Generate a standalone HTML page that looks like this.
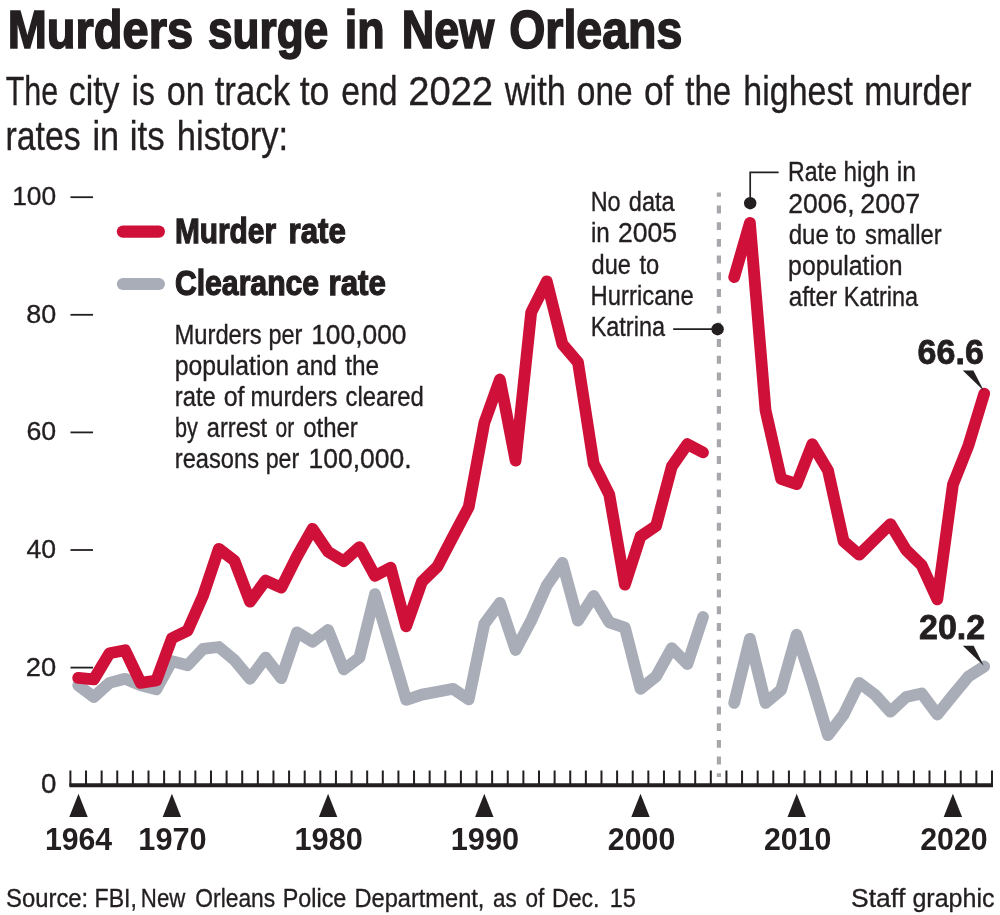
<!DOCTYPE html>
<html><head><meta charset="utf-8"><title>Murders surge in New Orleans</title>
<style>html,body{margin:0;padding:0;background:#fff}svg{display:block;will-change:transform}text{font-family:"Liberation Sans",sans-serif;fill:#231f20;font-kerning:none;font-variant-ligatures:none}.b{font-weight:bold}</style></head><body>
<svg width="1000" height="915" viewBox="0 0 1000 915">
<rect width="1000" height="915" fill="#fff"/>
<text x="7.71" y="48.4" font-size="54.2" class="b" textLength="185.37" lengthAdjust="spacingAndGlyphs" stroke="#231f20" stroke-width="1.70">Murders</text>
<text x="208.05" y="48.4" font-size="54.2" class="b" textLength="120.11" lengthAdjust="spacingAndGlyphs" stroke="#231f20" stroke-width="1.70">surge</text>
<text x="344.72" y="48.4" font-size="54.2" class="b" textLength="39.81" lengthAdjust="spacingAndGlyphs" stroke="#231f20" stroke-width="1.70">in</text>
<text x="401.74" y="48.4" font-size="54.2" class="b" textLength="92.52" lengthAdjust="spacingAndGlyphs" stroke="#231f20" stroke-width="1.70">New</text>
<text x="509.24" y="48.4" font-size="54.2" class="b" textLength="173.01" lengthAdjust="spacingAndGlyphs" stroke="#231f20" stroke-width="1.70">Orleans</text>
<text x="5.69" y="104.6" font-size="40.7" textLength="52.49" lengthAdjust="spacingAndGlyphs" stroke="#231f20" stroke-width="0.35">The</text>
<text x="68.74" y="104.6" font-size="40.7" textLength="50.75" lengthAdjust="spacingAndGlyphs" stroke="#231f20" stroke-width="0.35">city</text>
<text x="131.85" y="104.6" font-size="40.7" textLength="22.92" lengthAdjust="spacingAndGlyphs" stroke="#231f20" stroke-width="0.35">is</text>
<text x="166.74" y="104.6" font-size="40.7" textLength="37.89" lengthAdjust="spacingAndGlyphs" stroke="#231f20" stroke-width="0.35">on</text>
<text x="214.65" y="104.6" font-size="40.7" textLength="75.53" lengthAdjust="spacingAndGlyphs" stroke="#231f20" stroke-width="0.35">track</text>
<text x="299.64" y="104.6" font-size="40.7" textLength="29.68" lengthAdjust="spacingAndGlyphs" stroke="#231f20" stroke-width="0.35">to</text>
<text x="341.24" y="104.6" font-size="40.7" textLength="56.36" lengthAdjust="spacingAndGlyphs" stroke="#231f20" stroke-width="0.35">end</text>
<text x="408.26" y="104.6" font-size="40.7" textLength="84.78" lengthAdjust="spacingAndGlyphs" stroke="#231f20" stroke-width="0.35">2022</text>
<text x="504.73" y="104.6" font-size="40.7" textLength="61.13" lengthAdjust="spacingAndGlyphs" stroke="#231f20" stroke-width="0.35">with</text>
<text x="576.77" y="104.6" font-size="40.7" textLength="55.84" lengthAdjust="spacingAndGlyphs" stroke="#231f20" stroke-width="0.35">one</text>
<text x="644.00" y="104.6" font-size="40.7" textLength="29.38" lengthAdjust="spacingAndGlyphs" stroke="#231f20" stroke-width="0.35">of</text>
<text x="685.17" y="104.6" font-size="40.7" textLength="46.13" lengthAdjust="spacingAndGlyphs" stroke="#231f20" stroke-width="0.35">the</text>
<text x="743.32" y="104.6" font-size="40.7" textLength="109.55" lengthAdjust="spacingAndGlyphs" stroke="#231f20" stroke-width="0.35">highest</text>
<text x="864.17" y="104.6" font-size="40.7" textLength="107.41" lengthAdjust="spacingAndGlyphs" stroke="#231f20" stroke-width="0.35">murder</text>
<text x="5.53" y="150.3" font-size="40.7" textLength="75.22" lengthAdjust="spacingAndGlyphs" stroke="#231f20" stroke-width="0.35">rates</text>
<text x="92.38" y="150.3" font-size="40.7" textLength="26.67" lengthAdjust="spacingAndGlyphs" stroke="#231f20" stroke-width="0.35">in</text>
<text x="129.84" y="150.3" font-size="40.7" textLength="34.84" lengthAdjust="spacingAndGlyphs" stroke="#231f20" stroke-width="0.35">its</text>
<text x="176.78" y="150.3" font-size="40.7" textLength="111.40" lengthAdjust="spacingAndGlyphs" stroke="#231f20" stroke-width="0.35">history:</text>
<text x="12.17" y="205.2" font-size="26.6" textLength="43.99" lengthAdjust="spacingAndGlyphs" stroke="#231f20" stroke-width="0.35">100</text>
<line x1="70.5" y1="197.2" x2="93" y2="197.2" stroke="#231f20" stroke-width="1.8"/>
<text x="26.20" y="322.8" font-size="26.6" textLength="29.97" lengthAdjust="spacingAndGlyphs" stroke="#231f20" stroke-width="0.35">80</text>
<line x1="70.5" y1="314.8" x2="93" y2="314.8" stroke="#231f20" stroke-width="1.8"/>
<text x="26.42" y="440.4" font-size="26.6" textLength="29.75" lengthAdjust="spacingAndGlyphs" stroke="#231f20" stroke-width="0.35">60</text>
<line x1="70.5" y1="432.4" x2="93" y2="432.4" stroke="#231f20" stroke-width="1.8"/>
<text x="26.56" y="558.0" font-size="26.6" textLength="29.60" lengthAdjust="spacingAndGlyphs" stroke="#231f20" stroke-width="0.35">40</text>
<line x1="70.5" y1="550.0" x2="93" y2="550.0" stroke="#231f20" stroke-width="1.8"/>
<text x="25.80" y="675.6" font-size="26.6" textLength="30.39" lengthAdjust="spacingAndGlyphs" stroke="#231f20" stroke-width="0.35">20</text>
<line x1="70.5" y1="667.6" x2="93" y2="667.6" stroke="#231f20" stroke-width="1.8"/>
<text x="41.09" y="793.3" font-size="26.8" textLength="15.42" lengthAdjust="spacingAndGlyphs" stroke="#231f20" stroke-width="0.35">0</text>
<line x1="718.9" y1="192.5" x2="718.9" y2="777" stroke="#a6a8ab" stroke-width="4.2" stroke-dasharray="7.9 8.8" stroke-dashoffset="3.7"/>
<path d="M78.2,685.2 L93.8,697.0 L109.5,682.9 L125.1,678.8 L140.7,685.2 L156.3,689.4 L171.9,661.1 L187.6,665.2 L203.2,648.8 L218.8,647.0 L234.4,660.0 L250.0,678.8 L265.6,657.6 L281.3,678.2 L296.9,632.3 L312.5,641.7 L328.1,630.0 L343.8,669.4 L359.4,657.6 L375.0,594.1 L390.6,647.0 L406.2,699.9 L421.9,694.6 L437.5,691.7 L453.1,688.8 L468.7,699.4 L484.3,624.1 L499.9,602.9 L515.6,650.0 L531.2,620.6 L546.8,585.3 L562.4,562.9 L578.0,620.6 L593.7,595.9 L609.3,622.3 L624.9,627.6 L640.5,688.8 L656.1,676.4 L671.8,648.2 L687.4,664.1 L703.0,617.0" fill="none" stroke="#a9adb8" stroke-width="11.8" stroke-linecap="round" stroke-linejoin="round"/>
<path d="M734.2,702.9 L749.9,638.8 L765.5,702.9 L781.1,689.9 L796.7,634.7 L812.3,682.9 L828.0,735.2 L843.6,714.6 L859.2,682.9 L874.8,694.6 L890.4,711.7 L906.1,697.0 L921.7,693.5 L937.3,714.6 L952.9,695.2 L968.5,676.4 L984.2,666.4" fill="none" stroke="#a9adb8" stroke-width="11.8" stroke-linecap="round" stroke-linejoin="round"/>
<path d="M78.2,677.9 L93.8,679.4 L109.5,653.2 L125.1,650.3 L140.7,682.9 L156.3,680.5 L171.9,638.2 L187.6,630.6 L203.2,595.3 L218.8,548.8 L234.4,560.6 L250.0,601.7 L265.6,580.6 L281.3,587.6 L296.9,556.5 L312.5,528.8 L328.1,551.8 L343.8,561.2 L359.4,547.1 L375.0,575.9 L390.6,567.6 L406.2,626.4 L421.9,581.8 L437.5,566.5 L453.1,536.5 L468.7,507.1 L484.3,423.0 L499.9,379.5 L515.6,460.6 L531.2,312.4 L546.8,281.3 L562.4,344.2 L578.0,362.4 L593.7,463.6 L609.3,494.7 L624.9,584.7 L640.5,536.5 L656.1,525.9 L671.8,466.5 L687.4,444.2 L703.0,452.4" fill="none" stroke="#cf1139" stroke-width="11.8" stroke-linecap="round" stroke-linejoin="round"/>
<path d="M734.2,277.2 L749.9,222.8 L765.5,410.1 L781.1,478.9 L796.7,484.1 L812.3,444.2 L828.0,470.6 L843.6,541.2 L859.2,554.7 L874.8,539.4 L890.4,524.1 L906.1,550.0 L921.7,565.3 L937.3,599.4 L952.9,484.7 L968.5,445.3 L984.2,393.6" fill="none" stroke="#cf1139" stroke-width="11.8" stroke-linecap="round" stroke-linejoin="round"/>
<line x1="69.4" y1="785.3" x2="993.0" y2="785.3" stroke="#231f20" stroke-width="3.9"/>
<path d="M70.40,770.5V786M86.02,770.5V786M101.64,770.5V786M117.26,770.5V786M132.88,770.5V786M148.50,770.5V786M164.12,770.5V786M179.74,770.5V786M195.36,770.5V786M210.98,770.5V786M226.60,770.5V786M242.22,770.5V786M257.84,770.5V786M273.46,770.5V786M289.08,770.5V786M304.70,770.5V786M320.32,770.5V786M335.94,770.5V786M351.56,770.5V786M367.18,770.5V786M382.80,770.5V786M398.42,770.5V786M414.04,770.5V786M429.66,770.5V786M445.28,770.5V786M460.90,770.5V786M476.52,770.5V786M492.14,770.5V786M507.76,770.5V786M523.38,770.5V786M539.00,770.5V786M554.62,770.5V786M570.24,770.5V786M585.86,770.5V786M601.48,770.5V786M617.10,770.5V786M632.72,770.5V786M648.34,770.5V786M663.96,770.5V786M679.58,770.5V786M695.20,770.5V786M710.82,770.5V786M726.44,770.5V786M742.06,770.5V786M757.68,770.5V786M773.30,770.5V786M788.92,770.5V786M804.54,770.5V786M820.16,770.5V786M835.78,770.5V786M851.40,770.5V786M867.02,770.5V786M882.64,770.5V786M898.26,770.5V786M913.88,770.5V786M929.50,770.5V786M945.12,770.5V786M960.74,770.5V786M976.36,770.5V786M991.98,770.5V786" stroke="#231f20" stroke-width="2" fill="none"/>
<path d="M78.5,793.8 L69.3,816.9 L87.7,816.9 Z" fill="#231f20"/>
<text x="44.90" y="849.7" font-size="31.2" class="b" textLength="67.27" lengthAdjust="spacingAndGlyphs">1964</text>
<path d="M171.9,793.8 L162.7,816.9 L181.1,816.9 Z" fill="#231f20"/>
<text x="138.29" y="849.7" font-size="31.2" class="b" textLength="68.40" lengthAdjust="spacingAndGlyphs">1970</text>
<path d="M328.1,793.8 L318.9,816.9 L337.3,816.9 Z" fill="#231f20"/>
<text x="294.49" y="849.7" font-size="31.2" class="b" textLength="68.40" lengthAdjust="spacingAndGlyphs">1980</text>
<path d="M484.3,793.8 L475.1,816.9 L493.5,816.9 Z" fill="#231f20"/>
<text x="450.69" y="849.7" font-size="31.2" class="b" textLength="68.40" lengthAdjust="spacingAndGlyphs">1990</text>
<path d="M640.5,793.8 L631.3,816.9 L649.7,816.9 Z" fill="#231f20"/>
<text x="607.78" y="849.7" font-size="31.2" class="b" textLength="67.50" lengthAdjust="spacingAndGlyphs">2000</text>
<path d="M796.7,793.8 L787.5,816.9 L805.9,816.9 Z" fill="#231f20"/>
<text x="763.98" y="849.7" font-size="31.2" class="b" textLength="67.50" lengthAdjust="spacingAndGlyphs">2010</text>
<path d="M952.9,793.8 L943.7,816.9 L962.1,816.9 Z" fill="#231f20"/>
<text x="920.18" y="849.7" font-size="31.2" class="b" textLength="67.50" lengthAdjust="spacingAndGlyphs">2020</text>
<line x1="122.9" y1="231.6" x2="158.9" y2="231.6" stroke="#cf1139" stroke-width="12.2" stroke-linecap="round"/>
<line x1="122.9" y1="284.0" x2="158.9" y2="284.0" stroke="#a9adb8" stroke-width="12.2" stroke-linecap="round"/>
<text x="174.90" y="243.2" font-size="35.6" class="b" textLength="101.15" lengthAdjust="spacingAndGlyphs" stroke="#231f20" stroke-width="1.30">Murder</text>
<text x="288.59" y="243.2" font-size="35.6" class="b" textLength="57.33" lengthAdjust="spacingAndGlyphs" stroke="#231f20" stroke-width="1.30">rate</text>
<text x="174.91" y="295.0" font-size="35.6" class="b" textLength="144.22" lengthAdjust="spacingAndGlyphs" stroke="#231f20" stroke-width="1.30">Clearance</text>
<text x="328.59" y="295.0" font-size="35.6" class="b" textLength="57.33" lengthAdjust="spacingAndGlyphs" stroke="#231f20" stroke-width="1.30">rate</text>
<text x="174.42" y="343.6" font-size="27.0" textLength="87.26" lengthAdjust="spacingAndGlyphs" stroke="#231f20" stroke-width="0.35">Murders</text>
<text x="268.46" y="343.6" font-size="27.0" textLength="33.95" lengthAdjust="spacingAndGlyphs" stroke="#231f20" stroke-width="0.35">per</text>
<text x="311.16" y="343.6" font-size="27.0" textLength="95.39" lengthAdjust="spacingAndGlyphs" stroke="#231f20" stroke-width="0.35">100,000</text>
<text x="174.78" y="374.8" font-size="27.0" textLength="114.25" lengthAdjust="spacingAndGlyphs" stroke="#231f20" stroke-width="0.35">population</text>
<text x="296.34" y="374.8" font-size="27.0" textLength="40.55" lengthAdjust="spacingAndGlyphs" stroke="#231f20" stroke-width="0.35">and</text>
<text x="345.21" y="374.8" font-size="27.0" textLength="33.90" lengthAdjust="spacingAndGlyphs" stroke="#231f20" stroke-width="0.35">the</text>
<text x="174.80" y="406.0" font-size="27.0" textLength="40.99" lengthAdjust="spacingAndGlyphs" stroke="#231f20" stroke-width="0.35">rate</text>
<text x="223.72" y="406.0" font-size="27.0" textLength="20.86" lengthAdjust="spacingAndGlyphs" stroke="#231f20" stroke-width="0.35">of</text>
<text x="250.50" y="406.0" font-size="27.0" textLength="86.98" lengthAdjust="spacingAndGlyphs" stroke="#231f20" stroke-width="0.35">murders</text>
<text x="345.46" y="406.0" font-size="27.0" textLength="78.30" lengthAdjust="spacingAndGlyphs" stroke="#231f20" stroke-width="0.35">cleared</text>
<text x="174.98" y="437.1" font-size="27.0" textLength="22.89" lengthAdjust="spacingAndGlyphs" stroke="#231f20" stroke-width="0.35">by</text>
<text x="206.87" y="437.1" font-size="27.0" textLength="60.33" lengthAdjust="spacingAndGlyphs" stroke="#231f20" stroke-width="0.35">arrest</text>
<text x="275.59" y="437.1" font-size="27.0" textLength="18.68" lengthAdjust="spacingAndGlyphs" stroke="#231f20" stroke-width="0.35">or</text>
<text x="303.17" y="437.1" font-size="27.0" textLength="54.66" lengthAdjust="spacingAndGlyphs" stroke="#231f20" stroke-width="0.35">other</text>
<text x="174.80" y="468.3" font-size="27.0" textLength="84.18" lengthAdjust="spacingAndGlyphs" stroke="#231f20" stroke-width="0.35">reasons</text>
<text x="265.68" y="468.3" font-size="27.0" textLength="33.53" lengthAdjust="spacingAndGlyphs" stroke="#231f20" stroke-width="0.35">per</text>
<text x="308.46" y="468.3" font-size="27.0" textLength="103.09" lengthAdjust="spacingAndGlyphs" stroke="#231f20" stroke-width="0.35">100,000.</text>
<text x="590.65" y="210.8" font-size="27.0" textLength="29.96" lengthAdjust="spacingAndGlyphs" stroke="#231f20" stroke-width="0.35">No</text>
<text x="628.79" y="210.8" font-size="27.0" textLength="45.84" lengthAdjust="spacingAndGlyphs" stroke="#231f20" stroke-width="0.35">data</text>
<text x="590.96" y="242.2" font-size="27.0" textLength="18.84" lengthAdjust="spacingAndGlyphs" stroke="#231f20" stroke-width="0.35">in</text>
<text x="618.04" y="242.2" font-size="27.0" textLength="59.10" lengthAdjust="spacingAndGlyphs" stroke="#231f20" stroke-width="0.35">2005</text>
<text x="591.59" y="273.6" font-size="27.0" textLength="39.28" lengthAdjust="spacingAndGlyphs" stroke="#231f20" stroke-width="0.35">due</text>
<text x="639.42" y="273.6" font-size="27.0" textLength="19.81" lengthAdjust="spacingAndGlyphs" stroke="#231f20" stroke-width="0.35">to</text>
<text x="590.62" y="305.0" font-size="27.0" textLength="103.26" lengthAdjust="spacingAndGlyphs" stroke="#231f20" stroke-width="0.35">Hurricane</text>
<text x="590.65" y="336.4" font-size="27.0" textLength="74.38" lengthAdjust="spacingAndGlyphs" stroke="#231f20" stroke-width="0.35">Katrina</text>
<line x1="673.2" y1="329.2" x2="717" y2="329.2" stroke="#231f20" stroke-width="1.7"/>
<circle cx="717.6" cy="329.2" r="6.2" fill="#231f20"/>
<text x="788.08" y="181.3" font-size="27.0" textLength="48.77" lengthAdjust="spacingAndGlyphs" stroke="#231f20" stroke-width="0.35">Rate</text>
<text x="843.49" y="181.3" font-size="27.0" textLength="45.91" lengthAdjust="spacingAndGlyphs" stroke="#231f20" stroke-width="0.35">high</text>
<text x="896.80" y="181.3" font-size="27.0" textLength="19.44" lengthAdjust="spacingAndGlyphs" stroke="#231f20" stroke-width="0.35">in</text>
<text x="788.34" y="212.6" font-size="27.0" textLength="66.26" lengthAdjust="spacingAndGlyphs" stroke="#231f20" stroke-width="0.35">2006,</text>
<text x="860.32" y="212.6" font-size="27.0" textLength="59.86" lengthAdjust="spacingAndGlyphs" stroke="#231f20" stroke-width="0.35">2007</text>
<text x="788.66" y="243.8" font-size="27.0" textLength="40.23" lengthAdjust="spacingAndGlyphs" stroke="#231f20" stroke-width="0.35">due</text>
<text x="835.81" y="243.8" font-size="27.0" textLength="20.34" lengthAdjust="spacingAndGlyphs" stroke="#231f20" stroke-width="0.35">to</text>
<text x="865.01" y="243.8" font-size="27.0" textLength="76.61" lengthAdjust="spacingAndGlyphs" stroke="#231f20" stroke-width="0.35">smaller</text>
<text x="788.08" y="275.1" font-size="27.0" textLength="114.56" lengthAdjust="spacingAndGlyphs" stroke="#231f20" stroke-width="0.35">population</text>
<text x="788.64" y="306.3" font-size="27.0" textLength="48.58" lengthAdjust="spacingAndGlyphs" stroke="#231f20" stroke-width="0.35">after</text>
<text x="843.85" y="306.3" font-size="27.0" textLength="74.17" lengthAdjust="spacingAndGlyphs" stroke="#231f20" stroke-width="0.35">Katrina</text>
<path d="M750.2,203 V172.4 H778.6" fill="none" stroke="#231f20" stroke-width="1.7"/>
<circle cx="750.2" cy="203.2" r="6.2" fill="#231f20"/>
<text x="917.55" y="364.1" font-size="35.5" class="b" textLength="66.28" lengthAdjust="spacingAndGlyphs" stroke="#231f20" stroke-width="0.80">66.6</text>
<path d="M962.8,370.4 H973.4 L983.8,390.8 Z" fill="#231f20"/>
<text x="919.02" y="639.3" font-size="35.5" class="b" textLength="66.14" lengthAdjust="spacingAndGlyphs" stroke="#231f20" stroke-width="0.80">20.2</text>
<path d="M962.8,645.8 H973.6 L983.8,665.8 Z" fill="#231f20"/>
<text x="6.09" y="906.9" font-size="26.5" textLength="82.11" lengthAdjust="spacingAndGlyphs" stroke="#231f20" stroke-width="0.35">Source:</text>
<text x="94.53" y="906.9" font-size="26.5" textLength="42.37" lengthAdjust="spacingAndGlyphs" stroke="#231f20" stroke-width="0.35">FBI,</text>
<text x="140.85" y="906.9" font-size="26.5" textLength="44.42" lengthAdjust="spacingAndGlyphs" stroke="#231f20" stroke-width="0.35">New</text>
<text x="195.35" y="906.9" font-size="26.5" textLength="79.80" lengthAdjust="spacingAndGlyphs" stroke="#231f20" stroke-width="0.35">Orleans</text>
<text x="282.76" y="906.9" font-size="26.5" textLength="63.60" lengthAdjust="spacingAndGlyphs" stroke="#231f20" stroke-width="0.35">Police</text>
<text x="354.49" y="906.9" font-size="26.5" textLength="129.96" lengthAdjust="spacingAndGlyphs" stroke="#231f20" stroke-width="0.35">Department,</text>
<text x="492.97" y="906.9" font-size="26.5" textLength="23.66" lengthAdjust="spacingAndGlyphs" stroke="#231f20" stroke-width="0.35">as</text>
<text x="525.48" y="906.9" font-size="26.5" textLength="18.81" lengthAdjust="spacingAndGlyphs" stroke="#231f20" stroke-width="0.35">of</text>
<text x="552.03" y="906.9" font-size="26.5" textLength="47.40" lengthAdjust="spacingAndGlyphs" stroke="#231f20" stroke-width="0.35">Dec.</text>
<text x="609.63" y="906.9" font-size="26.5" textLength="26.18" lengthAdjust="spacingAndGlyphs" stroke="#231f20" stroke-width="0.35">15</text>
<text x="851.07" y="906.9" font-size="26.5" textLength="54.41" lengthAdjust="spacingAndGlyphs" stroke="#231f20" stroke-width="0.35">Staff</text>
<text x="912.42" y="906.9" font-size="26.5" textLength="82.06" lengthAdjust="spacingAndGlyphs" stroke="#231f20" stroke-width="0.35">graphic</text>
</svg></body></html>
